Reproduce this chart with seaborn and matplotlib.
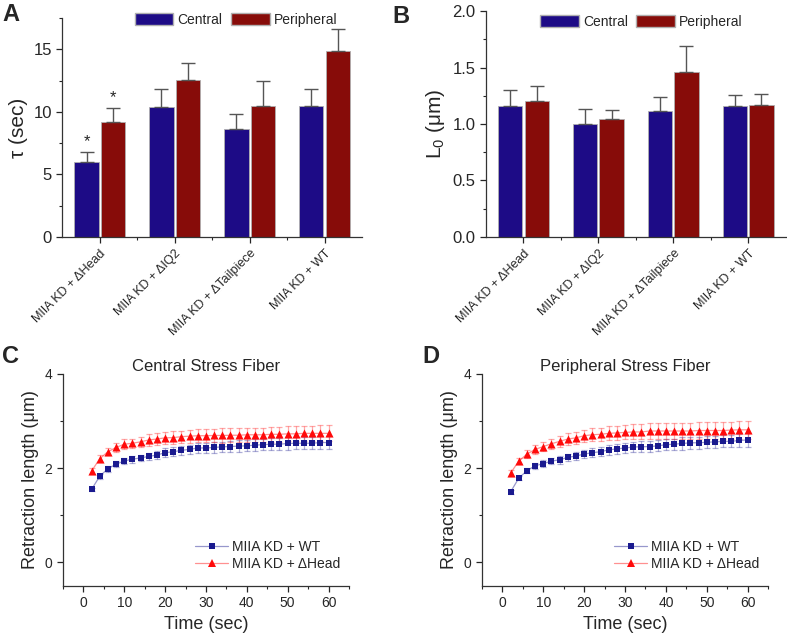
import numpy as np
import pandas as pd
import matplotlib
matplotlib.use("Agg")
import matplotlib.pyplot as plt
from matplotlib.lines import Line2D
from matplotlib.patches import Patch
from matplotlib.ticker import MultipleLocator
from matplotlib.colors import to_rgba
import seaborn as sns

# ---- data ----
groups = ["MIIA KD + \u0394Head", "MIIA KD + \u0394IQ2",
          "MIIA KD + \u0394Tailpiece", "MIIA KD + WT"]

tau_central = [6.02, 10.38, 8.65, 10.43]
tau_central_err = [0.78, 1.42, 1.15, 1.39]
tau_periph = [9.15, 12.52, 10.43, 14.84]
tau_periph_err = [1.15, 1.38, 2.06, 1.81]

L0_central = [1.162, 1.003, 1.118, 1.159]
L0_central_err = [0.136, 0.127, 0.118, 0.101]
L0_periph = [1.204, 1.041, 1.463, 1.168]
L0_periph_err = [0.135, 0.086, 0.230, 0.100]

time = list(range(2, 61, 2))

c_wt = [1.55, 1.83, 1.99, 2.085, 2.155, 2.19, 2.22, 2.25, 2.28, 2.33,
        2.35, 2.38, 2.40, 2.43, 2.43, 2.44, 2.455, 2.46, 2.47, 2.475,
        2.49, 2.50, 2.51, 2.51, 2.525, 2.53, 2.53, 2.53, 2.545, 2.545]
c_wt_err = [0.04, 0.05, 0.06, 0.06, 0.07, 0.07, 0.07, 0.08, 0.08, 0.09,
            0.09, 0.10, 0.10, 0.10, 0.11, 0.11, 0.11, 0.11, 0.12, 0.12,
            0.12, 0.12, 0.13, 0.13, 0.13, 0.13, 0.13, 0.13, 0.14, 0.14]
c_head = [1.94, 2.20, 2.35, 2.44, 2.51, 2.53, 2.56, 2.60, 2.62, 2.645,
          2.65, 2.67, 2.68, 2.69, 2.69, 2.695, 2.695, 2.70, 2.70, 2.71,
          2.71, 2.71, 2.72, 2.72, 2.73, 2.73, 2.74, 2.74, 2.74, 2.74]
c_head_err = [0.06, 0.07, 0.08, 0.09, 0.10, 0.10, 0.11, 0.12, 0.12, 0.13,
              0.13, 0.13, 0.14, 0.14, 0.14, 0.14, 0.15, 0.15, 0.15, 0.15,
              0.15, 0.15, 0.16, 0.16, 0.16, 0.16, 0.16, 0.16, 0.17, 0.17]

d_wt = [1.50, 1.79, 1.95, 2.05, 2.10, 2.15, 2.18, 2.23, 2.26, 2.30,
        2.33, 2.35, 2.39, 2.41, 2.43, 2.45, 2.455, 2.46, 2.475, 2.50,
        2.51, 2.525, 2.54, 2.54, 2.55, 2.56, 2.57, 2.57, 2.59, 2.60]
d_wt_err = [0.04, 0.05, 0.06, 0.06, 0.07, 0.07, 0.08, 0.08, 0.09, 0.09,
            0.10, 0.10, 0.10, 0.11, 0.11, 0.11, 0.12, 0.12, 0.12, 0.12,
            0.12, 0.13, 0.13, 0.13, 0.13, 0.13, 0.13, 0.13, 0.14, 0.14]
d_head = [1.90, 2.15, 2.30, 2.40, 2.46, 2.52, 2.57, 2.62, 2.645, 2.69,
          2.71, 2.72, 2.74, 2.75, 2.76, 2.77, 2.77, 2.79, 2.79, 2.79,
          2.79, 2.79, 2.79, 2.80, 2.80, 2.80, 2.80, 2.81, 2.815, 2.815]
d_head_err = [0.06, 0.07, 0.08, 0.09, 0.10, 0.11, 0.11, 0.12, 0.13, 0.13,
              0.14, 0.14, 0.15, 0.15, 0.15, 0.16, 0.16, 0.16, 0.17, 0.17,
              0.17, 0.17, 0.17, 0.18, 0.18, 0.18, 0.18, 0.18, 0.19, 0.19]

BLUE = "#1d0b86"
RED = "#870c09"
LINE_BLUE = "#1a1a8f"
LINE_RED = "#ff0a0a"

sns.set_style("ticks")
plt.rcParams["font.family"] = ["Liberation Sans", "DejaVu Sans"]
plt.rcParams["mathtext.fontset"] = "custom"
plt.rcParams["mathtext.rm"] = "Liberation Sans"
plt.rcParams["axes.linewidth"] = 0.9
plt.rcParams["axes.edgecolor"] = "#333333"

fig = plt.figure(figsize=(7.87, 6.33), dpi=100)
axA = fig.add_axes([0.079, 0.6256, 0.381, 0.346])
axB = fig.add_axes([0.6175, 0.6256, 0.381, 0.357])
axC = fig.add_axes([0.080, 0.0742, 0.3634, 0.335])
axD = fig.add_axes([0.6125, 0.0742, 0.3634, 0.335])


def bar_panel(ax, cen, cen_err, per, per_err, ymax, major, minor):
    df = pd.DataFrame({
        "group": groups * 2,
        "kind": ["Central"] * 4 + ["Peripheral"] * 4,
        "value": cen + per,
    })
    sns.barplot(data=df, x="group", y="value", hue="kind",
                hue_order=["Central", "Peripheral"],
                palette=[BLUE, RED], width=0.7, gap=0.08,
                edgecolor="#b0b0b0", linewidth=0.6,
                saturation=1, errorbar=None, legend=False, ax=ax)
    errs = cen_err + per_err
    vals = cen + per
    for p, v, e in zip(ax.patches[:8], vals, errs):
        xc = p.get_x() + p.get_width() / 2
        ax.errorbar(xc, v, yerr=[[0], [e]], fmt="none", ecolor="#555555",
                    elinewidth=1.0, capsize=5, capthick=1.0)
    ax.set_xlim(-0.5, 3.5)
    ax.set_ylim(0, ymax)
    ax.yaxis.set_major_locator(MultipleLocator(major))
    ax.yaxis.set_minor_locator(MultipleLocator(minor))
    ax.set_xticks(range(4))
    ax.set_xticks([0.5, 1.5, 2.5], minor=True)
    ax.set_xticklabels(groups, rotation=45, ha="right",
                       rotation_mode="anchor", fontsize=9)
    ax.set_xlabel("")
    ax.tick_params(axis="both", which="major", length=4, width=0.9,
                   direction="out", labelsize=12)
    ax.tick_params(axis="x", which="major", labelsize=9)
    ax.tick_params(axis="both", which="minor", length=2.5, width=0.8,
                   direction="out")
    sns.despine(ax=ax)
    return ax


bar_panel(axA, tau_central, tau_central_err, tau_periph, tau_periph_err,
          17.5, 5, 2.5)
axA.set_ylabel("\u03c4 (sec)", fontsize=15)
for i, (v, e) in enumerate([(tau_central[0], tau_central_err[0]),
                            (tau_periph[0], tau_periph_err[0])]):
    p = axA.patches[0] if i == 0 else axA.patches[4]
    axA.text(p.get_x() + p.get_width() / 2, v + e + 0.25, "*",
             ha="center", va="bottom", fontsize=12)

bar_panel(axB, L0_central, L0_central_err, L0_periph, L0_periph_err,
          2.0, 0.5, 0.25)
axB.set_ylabel("L$_0$ (\u03bcm)", fontsize=15)
axB.yaxis.set_major_formatter(matplotlib.ticker.FormatStrFormatter("%.1f"))

handles = [Patch(facecolor=BLUE, edgecolor="#b0b0b0", label="Central"),
           Patch(facecolor=RED, edgecolor="#b0b0b0", label="Peripheral")]
for ax, xc, yc in [(axA, 0.30, 0.993), (axB, 0.815, 0.99)]:
    fig.legend(handles=handles, loc="upper center", bbox_to_anchor=(xc, yc),
               ncol=2, frameon=False, fontsize=10, handlelength=2.8,
               handleheight=1.0, columnspacing=0.6, handletextpad=0.3,
               borderpad=0.1)


def line_panel(ax, wt, wt_err, head, head_err, title):
    df = pd.DataFrame({"time": time * 2, "value": wt + head,
                       "series": ["WT"] * len(time) + ["Head"] * len(time)})
    ax.errorbar(time, wt, yerr=wt_err, fmt="none", ecolor=LINE_BLUE,
                alpha=0.35, elinewidth=0.9, capsize=2.5, capthick=0.9)
    ax.errorbar(time, head, yerr=head_err, fmt="none", ecolor=LINE_RED,
                alpha=0.35, elinewidth=0.9, capsize=2.5, capthick=0.9)
    sns.lineplot(data=df, x="time", y="value", hue="series",
                 hue_order=["WT", "Head"], palette=[LINE_BLUE, LINE_RED],
                 alpha=0.45, linewidth=0.9, legend=False, ax=ax)
    sns.scatterplot(data=df[df.series == "WT"], x="time", y="value",
                    marker="s", color=LINE_BLUE, s=22, linewidth=0,
                    zorder=5, ax=ax)
    sns.scatterplot(data=df[df.series == "Head"], x="time", y="value",
                    marker="^", color=LINE_RED, s=34, linewidth=0,
                    zorder=5, ax=ax)
    ax.set_xlim(-5, 65)
    ax.set_ylim(-0.5, 4)
    ax.set_yticks([0, 2, 4])
    ax.yaxis.set_minor_locator(MultipleLocator(1))
    ax.xaxis.set_major_locator(MultipleLocator(10))
    ax.xaxis.set_minor_locator(MultipleLocator(5))
    ax.tick_params(axis="both", which="major", length=4, width=0.9,
                   direction="out", labelsize=10)
    ax.tick_params(axis="both", which="minor", length=2.5, width=0.8,
                   direction="out")
    ax.set_xlabel("Time (sec)", fontsize=13)
    ax.set_ylabel("Retraction length (\u03bcm)", fontsize=13)
    ax.set_title(title, fontsize=12, pad=2)
    sns.despine(ax=ax)
    lh = [Line2D([], [], color=to_rgba(LINE_BLUE, 0.45), lw=0.9, marker="s",
                 markersize=4.5, markerfacecolor=LINE_BLUE,
                 markeredgewidth=0, label="MIIA KD + WT"),
          Line2D([], [], color=to_rgba(LINE_RED, 0.45), lw=0.9, marker="^",
                 markersize=5.5, markerfacecolor=LINE_RED,
                 markeredgewidth=0, label="MIIA KD + \u0394Head")]
    ax.legend(handles=lh, loc="lower right", bbox_to_anchor=(1.0, 0.03),
              frameon=False, fontsize=10, handlelength=2.4,
              handletextpad=0.3, labelspacing=0.25, borderaxespad=0.2)


line_panel(axC, c_wt, c_wt_err, c_head, c_head_err, "Central Stress Fiber")
line_panel(axD, d_wt, d_wt_err, d_head, d_head_err, "Peripheral Stress Fiber")

for label, x, y in [("A", 0.003, 0.995), ("B", 0.499, 0.992),
                    ("C", 0.003, 0.455), ("D", 0.537, 0.455)]:
    fig.text(x, y, label, fontsize=17, fontweight="bold", va="top", ha="left")

fig.savefig("out.png", dpi=100)
